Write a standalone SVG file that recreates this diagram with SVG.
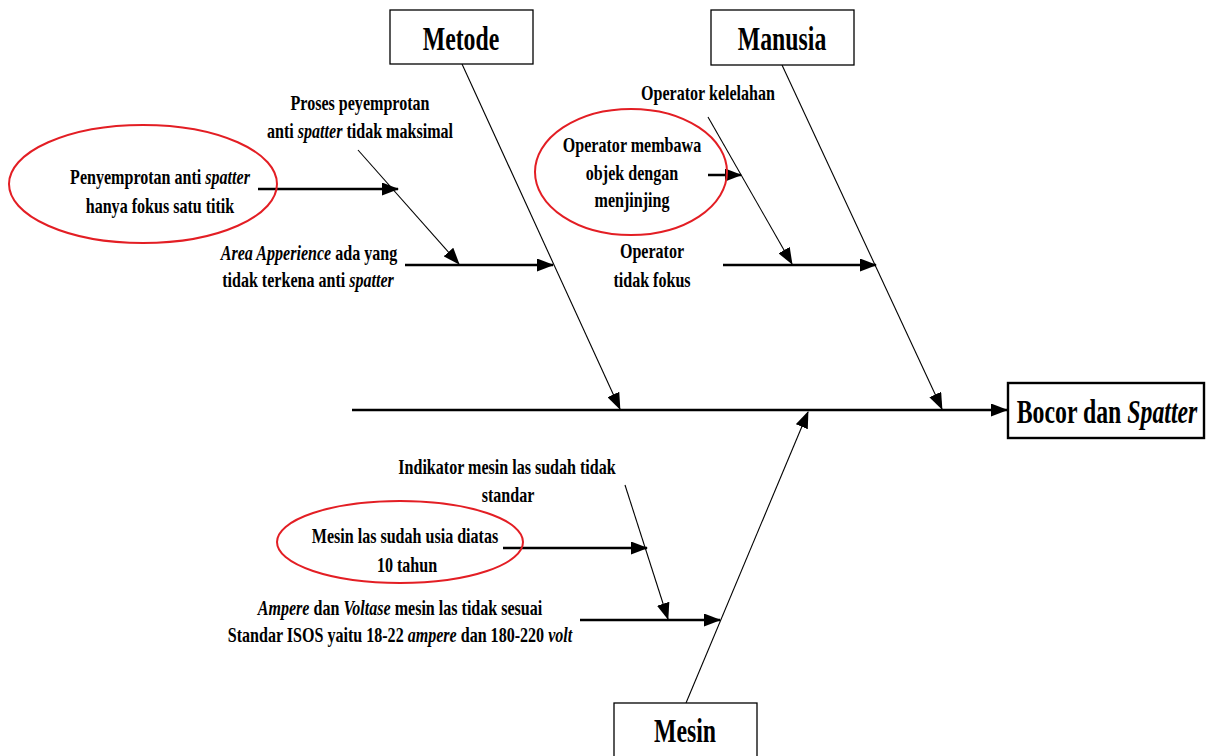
<svg xmlns="http://www.w3.org/2000/svg" width="1206" height="756" viewBox="0 0 1206 756">
  <style>
    .lbl { font-family: "Liberation Serif", "Times New Roman", serif; font-weight: bold; font-size: 22px; text-anchor: middle; fill: #000; }
    .ttl { font-size: 34px; }
    .it { font-style: italic; }
    .box { fill: #fff; stroke: #000; stroke-width: 1.3; }
    .head { fill: #fff; stroke: #000; stroke-width: 2.4; }
    .oval { fill: none; stroke: #e31e24; stroke-width: 2; }
    .thick { stroke: #000; stroke-width: 2.6; fill: none; marker-end: url(#ah); }
    .thin { stroke: #000; stroke-width: 1.1; fill: none; marker-end: url(#ah); }
  </style>
  <defs>
    <marker id="ah" viewBox="0 0 17 13" refX="16" refY="6.5" markerWidth="17" markerHeight="13" markerUnits="userSpaceOnUse" orient="auto">
      <path d="M0,0 L17,6.5 L0,13 z" fill="#000"/>
    </marker>
  </defs>
  <rect width="1206" height="756" fill="#fff"/>

  <!-- spine, main bones and sub-causes -->
  <g id="connectors">
    <line class="thick" x1="352" y1="410" x2="1007" y2="410"/>
    <line class="thin" x1="462" y1="64" x2="620" y2="409"/>
    <line class="thin" x1="782" y1="65" x2="942" y2="409"/>
    <line class="thin" x1="686" y1="703" x2="808" y2="412"/>

    <line class="thick" x1="258" y1="189" x2="398" y2="189"/>
    <line class="thin" x1="358" y1="150" x2="459" y2="264"/>
    <line class="thick" x1="405" y1="265" x2="553" y2="265"/>

    <line class="thin" x1="708" y1="117" x2="792" y2="264"/>
    <line class="thick" x1="708" y1="175" x2="741" y2="175"/>
    <line class="thick" x1="723" y1="265" x2="876" y2="265"/>

    <line class="thin" x1="625" y1="485" x2="668" y2="619"/>
    <line class="thick" x1="503" y1="548" x2="647" y2="548"/>
    <line class="thick" x1="580" y1="620" x2="720" y2="620"/>
  </g>

  <g id="metode">
    <rect class="box" x="390" y="10" width="143" height="54"/>
    <text class="lbl ttl" transform="translate(461 50) scale(0.7 1)">Metode</text>
  </g>

  <g id="manusia">
    <rect class="box" x="711" y="10" width="143" height="55"/>
    <text class="lbl ttl" transform="translate(782 50) scale(0.7 1)">Manusia</text>
  </g>

  <g id="mesin">
    <rect class="box" x="614" y="703" width="143" height="60"/>
    <text class="lbl ttl" transform="translate(685 742) scale(0.7 1)">Mesin</text>
  </g>

  <g id="bocor-dan-spatter">
    <rect class="head" x="1008" y="383" width="196" height="55"/>
    <text class="lbl ttl" transform="translate(1107 423) scale(0.7 1)">Bocor dan <tspan class="it">Spatter</tspan></text>
  </g>

  <g id="proses-penyemprotan">
    <text class="lbl" transform="translate(360 110) scale(0.73 1)">Proses peyemprotan</text>
    <text class="lbl" transform="translate(360 138) scale(0.73 1)">anti <tspan class="it">spatter</tspan> tidak maksimal</text>
  </g>

  <g id="penyemprotan-satu-titik">
    <ellipse class="oval" cx="143" cy="184" rx="134" ry="59"/>
    <text class="lbl" transform="translate(160 184) scale(0.73 1)">Penyemprotan anti <tspan class="it">spatter</tspan></text>
    <text class="lbl" transform="translate(160 213) scale(0.73 1)">hanya fokus satu titik</text>
  </g>

  <g id="area-apperience">
    <text class="lbl" transform="translate(309 260) scale(0.73 1)"><tspan class="it">Area Apperience</tspan> ada yang</text>
    <text class="lbl" transform="translate(308 287) scale(0.73 1)">tidak terkena anti <tspan class="it">spatter</tspan></text>
  </g>

  <g id="operator-kelelahan">
    <text class="lbl" transform="translate(708 100) scale(0.73 1)">Operator kelelahan</text>
  </g>

  <g id="operator-menjinjing">
    <ellipse class="oval" cx="631" cy="172" rx="96" ry="63"/>
    <text class="lbl" transform="translate(632 152) scale(0.73 1)">Operator membawa</text>
    <text class="lbl" transform="translate(632 180) scale(0.73 1)">objek dengan</text>
    <text class="lbl" transform="translate(632 207) scale(0.73 1)">menjinjing</text>
  </g>

  <g id="operator-tidak-fokus">
    <text class="lbl" transform="translate(652 258) scale(0.73 1)">Operator</text>
    <text class="lbl" transform="translate(652 287) scale(0.73 1)">tidak fokus</text>
  </g>

  <g id="indikator-mesin">
    <text class="lbl" transform="translate(507 474) scale(0.73 1)">Indikator mesin las sudah tidak</text>
    <text class="lbl" transform="translate(508 502) scale(0.73 1)">standar</text>
  </g>

  <g id="usia-mesin">
    <ellipse class="oval" cx="400" cy="542" rx="123" ry="41"/>
    <text class="lbl" transform="translate(405 543) scale(0.73 1)">Mesin las sudah usia diatas</text>
    <text class="lbl" transform="translate(407 572) scale(0.73 1)">10 tahun</text>
  </g>

  <g id="ampere-voltase">
    <text class="lbl" transform="translate(400 615) scale(0.73 1)"><tspan class="it">Ampere</tspan> dan <tspan class="it">Voltase</tspan> mesin las tidak sesuai</text>
    <text class="lbl" transform="translate(400 642) scale(0.73 1)">Standar ISOS yaitu 18-22 <tspan class="it">ampere</tspan> dan 180-220 <tspan class="it">volt</tspan></text>
  </g>
</svg>
